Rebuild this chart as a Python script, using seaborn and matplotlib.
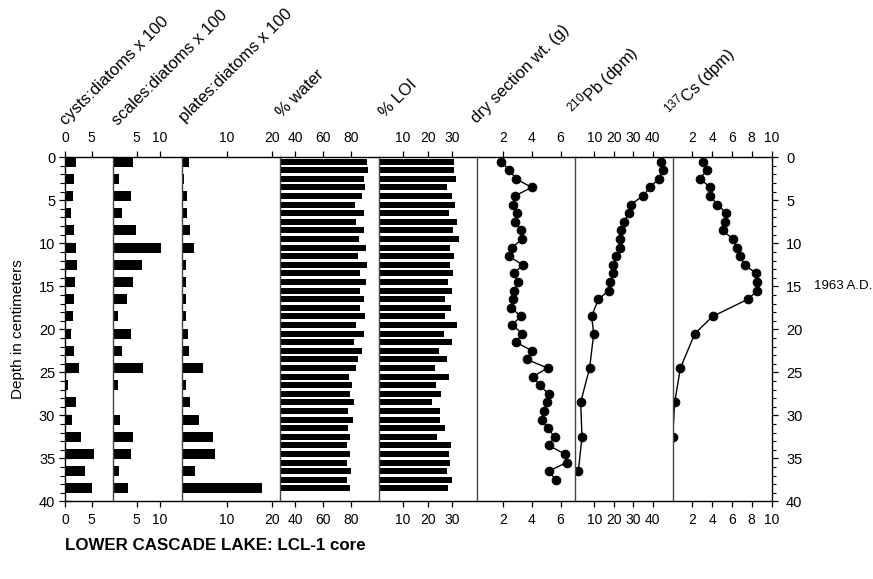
import numpy as np
import pandas as pd
import matplotlib
matplotlib.use("Agg")
import matplotlib.pyplot as plt
import seaborn as sns
from matplotlib.ticker import MultipleLocator, FixedLocator

# ---------------- data ----------------
depth_2cm = [0.5, 2.5, 4.5, 6.5, 8.5, 10.5, 12.5, 14.5, 16.5, 18.5,
             20.5, 22.5, 24.5, 26.5, 28.5, 30.5, 32.5, 34.5, 36.5, 38.5]
cysts = [2.0, 1.75, 1.55, 1.05, 1.7, 2.1, 2.2, 1.95, 1.75, 1.45,
         1.1, 1.75, 2.6, 0.6, 2.1, 1.3, 2.95, 5.5, 3.75, 5.0]
scales = [4.2, 1.15, 3.85, 1.85, 4.95, 10.3, 6.15, 4.15, 2.9, 1.0,
          3.75, 1.8, 6.3, 0.95, 0.0, 1.5, 4.3, 3.85, 1.15, 3.1]
plates = [1.5, 0.45, 1.1, 1.1, 1.7, 2.6, 0.8, 0.8, 0.75, 0.75,
          1.3, 1.5, 4.7, 0.75, 1.75, 3.8, 6.8, 7.2, 2.85, 17.8]

depth_1cm = [0.5 + i for i in range(39)]
water = [91.4, 92.4, 89.9, 90.4, 87.8, 83.2, 89.5, 84.1, 89.7, 86.3,
         90.9, 84.9, 91.4, 86.5, 90.9, 86.5, 89.7, 86.8, 90.2, 84.1,
         89.7, 82.7, 88.2, 84.9, 84.1, 78.5, 81.2, 79.8, 82.7, 77.8,
         81.5, 77.8, 79.3, 77.1, 79.3, 77.3, 80.0, 77.3, 79.8]
loi = [30.8, 30.8, 31.5, 28.0, 29.9, 31.2, 28.7, 31.9, 30.2, 32.5,
       29.2, 30.7, 29.2, 30.4, 28.2, 29.9, 27.2, 29.6, 27.2, 31.8,
       26.7, 30.0, 24.7, 27.8, 23.1, 28.5, 23.2, 25.3, 21.8, 25.0,
       24.8, 27.2, 23.9, 29.3, 28.7, 28.9, 27.8, 29.9, 28.2]

depth_dry = [0.5 + i for i in range(38)]
dry_wt = [1.84, 2.42, 2.88, 3.98, 2.79, 2.68, 2.98, 2.79, 3.26, 3.33,
          2.58, 2.37, 3.35, 2.75, 3.02, 2.77, 2.70, 2.56, 3.21, 2.61,
          3.33, 2.88, 4.00, 3.63, 5.09, 4.07, 4.53, 5.16, 5.07, 4.81,
          4.67, 5.09, 5.58, 5.16, 6.30, 6.42, 5.16, 5.67]

depth_pb = [0.5, 1.5, 2.5, 3.5, 4.5, 5.5, 6.5, 7.5, 8.5, 9.5, 10.5, 11.5,
            12.5, 13.5, 14.5, 15.5, 16.5, 18.5, 20.5, 24.5, 28.5, 32.5, 36.5]
pb210 = [44.0, 45.1, 43.0, 38.6, 34.8, 28.7, 27.6, 25.2, 23.9, 23.0, 23.2,
         21.1, 19.8, 19.8, 18.2, 17.5, 12.1, 8.6, 9.7, 7.6, 3.0, 3.7, 1.8]

depth_cs = [0.5, 1.5, 2.5, 3.5, 4.5, 5.5, 6.5, 7.5, 8.5, 9.5, 10.5, 11.5,
            12.5, 13.5, 14.5, 15.5, 16.5, 18.5, 20.5, 24.5, 28.5, 32.5]
cs137 = [3.02, 3.47, 2.75, 3.81, 3.81, 4.52, 5.44, 5.34, 5.06, 6.08, 6.49,
         6.80, 7.31, 8.43, 8.57, 8.57, 7.62, 4.04, 2.24, 0.78, 0.20, 0.0]

labels = ["cysts:diatoms x 100", "scales:diatoms x 100", "plates:diatoms x 100",
          "% water", "% LOI", "dry section wt. (g)",
          r"$\mathregular{^{210}}$Pb (dpm)", r"$\mathregular{^{137}}$Cs (dpm)"]
xticks = [[0, 5], [5, 10], [10, 20], [40, 60, 80], [10, 20, 30],
          [2, 4, 6], [10, 20, 30, 40], [2, 4, 6, 8, 10]]
title = "LOWER CASCADE LAKE: LCL-1 core"
ylabel = "Depth in centimeters"
marker_text = "1963 A.D."

# ---------------- style ----------------
sns.set_theme(style="white")
plt.rcParams["font.family"] = ["Liberation Sans", "DejaVu Sans"]
plt.rcParams["mathtext.fontset"] = "custom"
plt.rcParams["mathtext.rm"] = "Liberation Sans"
plt.rcParams["mathtext.it"] = "Liberation Sans:italic"
plt.rcParams["mathtext.bf"] = "Liberation Sans:bold"

W, H = 873, 579
fig = plt.figure(figsize=(W / 100, H / 100), dpi=100)

edges = [65, 113.3, 182.3, 280, 378.5, 477, 574.8, 672.7, 771.5]
xlims = [(0, 9.05), (0, 14.84), (0, 21.8), (29.1, 100), (0, 40),
         (0.15, 7.0), (0, 50.2), (0, 10)]
top_px, bot_px = 157.3, 501.3

axes = []
for i in range(8):
    l = edges[i] / W
    w = (edges[i + 1] - edges[i]) / W
    b = 1 - bot_px / H
    h = (bot_px - top_px) / H
    ax = fig.add_axes([l, b, w, h], sharey=axes[0] if axes else None)
    ax.set_facecolor("white")
    axes.append(ax)

bar_sets = [(cysts, depth_2cm, 0.58), (scales, depth_2cm, 0.58),
            (plates, depth_2cm, 0.58), (water, depth_1cm, 0.68),
            (loi, depth_1cm, 0.68)]
for ax, (vals, deps, wd) in zip(axes[:5], bar_sets):
    sns.barplot(x=vals, y=deps, orient="y", native_scale=True, width=wd,
                color="black", saturation=1, linewidth=0, errorbar=None, ax=ax)

line_sets = [(dry_wt, depth_dry), (pb210, depth_pb), (cs137, depth_cs)]
for ax, (vals, deps) in zip(axes[5:], line_sets):
    sns.lineplot(x=vals, y=deps, sort=False, orient="y", estimator=None,
                 color="black", linewidth=1.0, marker="o", markersize=6.2,
                 markeredgecolor="black", markerfacecolor="black", ax=ax)

for i, ax in enumerate(axes):
    ax.set_xlim(*xlims[i])
    ax.set_ylim(40, 0)
    ax.set_xlabel("")
    ax.set_ylabel("")
    ax.xaxis.set_major_locator(FixedLocator(xticks[i]))
    ax.tick_params(axis="x", which="both", top=True, bottom=True,
                   labeltop=True, labelbottom=True, direction="out",
                   length=4.5, width=0.9, color="black", labelsize=10,
                   pad=2, labelcolor="black")
    ax.tick_params(axis="x", which="major", bottom=True, pad=4)
    for s in ["top", "bottom"]:
        ax.spines[s].set_visible(True)
        ax.spines[s].set_color("black")
        ax.spines[s].set_linewidth(1.0)
    ax.spines["left"].set_visible(True)
    ax.spines["left"].set_color("black" if i == 0 else "#444444")
    ax.spines["left"].set_linewidth(1.0)
    ax.spines["right"].set_visible(i == 7)
    ax.spines["right"].set_color("black")
    ax.spines["right"].set_linewidth(1.0)
    if i == 0:
        ax.yaxis.set_major_locator(MultipleLocator(5))
        ax.yaxis.set_minor_locator(MultipleLocator(1))
        ax.tick_params(axis="y", which="major", left=True, labelleft=True,
                       right=False, labelright=False, direction="inout",
                       length=8, width=0.9, labelsize=10.5, pad=3,
                       color="black", labelcolor="black")
        ax.tick_params(axis="y", which="minor", left=True, right=False,
                       direction="out", length=3.5, width=0.8, color="black")
    elif i == 7:
        ax.tick_params(axis="y", which="major", left=False, labelleft=False,
                       right=True, labelright=True, direction="out",
                       length=4.5, width=0.9, labelsize=10.5, pad=6,
                       color="black", labelcolor="black")
        ax.tick_params(axis="y", which="minor", left=False, right=True,
                       direction="out", length=3, width=0.8, color="black")
    else:
        ax.tick_params(axis="y", which="both", left=False, right=False,
                       labelleft=False, labelright=False)

# rotated column headers
anchors = [(66, 126), (118, 126), (185, 123), (282, 118), (385, 118),
           (477, 124), (576, 117), (673, 118)]
for (px, py), txt in zip(anchors, labels):
    fig.text(px / W, 1 - py / H, txt, rotation=45, rotation_mode="anchor",
             ha="left", va="baseline", fontsize=12, color="black")

fig.text(18 / W, 1 - 329 / H, ylabel, rotation=90, ha="center", va="center",
         fontsize=11, color="black")
fig.text(814 / W, 1 - 286 / H, marker_text, ha="left", va="center",
         fontsize=9.5, color="black")
fig.text(65 / W, 1 - 546 / H, title, ha="left", va="center",
         fontsize=12.2, fontweight="bold", color="black")

fig.savefig("out.png", dpi=100, facecolor="white")
